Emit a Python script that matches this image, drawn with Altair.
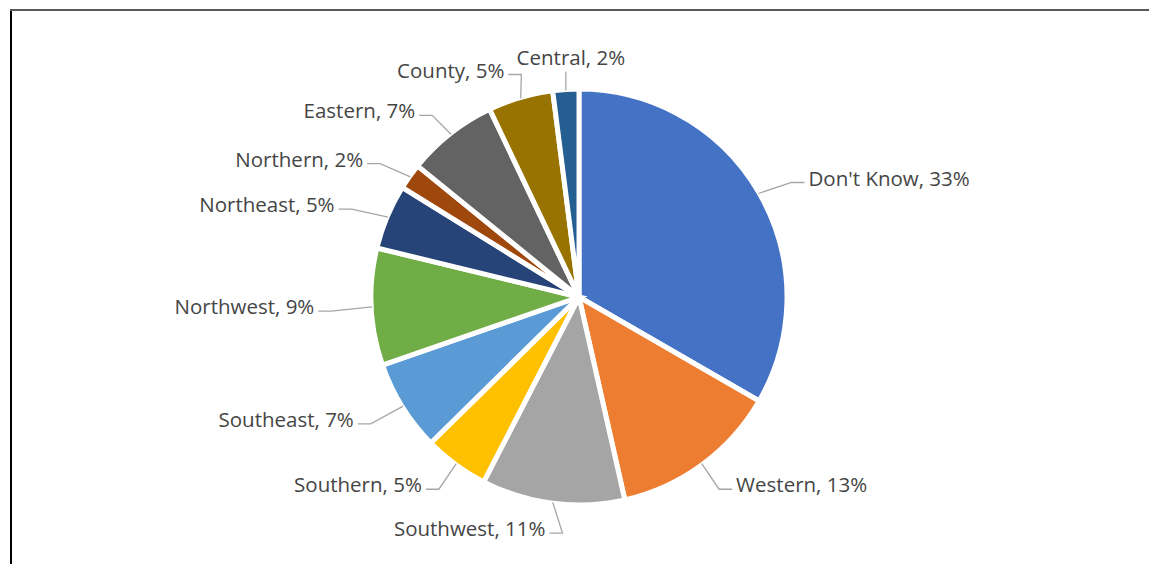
import math
import altair as alt
import pandas as pd

categories = ["Don't Know", "Western", "Southwest", "Southern", "Southeast",
              "Northwest", "Northeast", "Northern", "Eastern", "County", "Central"]
values = [33, 13, 11, 5, 7, 9, 5, 2, 7, 5, 2]
colors = ["#4472C4", "#ED7D31", "#A5A5A5", "#FFC000", "#5B9BD5",
          "#70AD47", "#264478", "#9E480E", "#636363", "#997300", "#255E91"]

W, H = 1149, 564
CX, CY = 579, 297
R = 208
R_START = 207
LAB_A, LAB_B = 265, 235   # label anchor ellipse (horizontal, vertical)
HSEG = 13
GAP = 4
FONT = "Open Sans"
FSIZE = 20.5

total = sum(values)
pie_df = pd.DataFrame({"cat": categories, "val": values, "idx": list(range(len(values)))})

line_rows, text_rows = [], []
cum = 0
for i, (c, v) in enumerate(zip(categories, values)):
    mid = (cum + v / 2) / total * 2 * math.pi
    cum += v
    s, co = math.sin(mid), math.cos(mid)
    sx, sy = CX + R_START * s, CY - R_START * co
    label = f"{c}, {v}%"
    line_rows.append({"cat": c, "k": 0, "x": sx, "y": sy})
    if abs(s) < 0.15 and co > 0:
        ey = CY - (R + 18) * co
        line_rows.append({"cat": c, "k": 1, "x": sx, "y": ey})
        text_rows.append({"label": label, "x": sx + 5, "y": ey - 2, "al": "center"})
    else:
        side = 1 if s > 0 else -1
        ax, ay = CX + LAB_A * s, CY - LAB_B * co
        line_rows.append({"cat": c, "k": 1, "x": ax - side * (HSEG + GAP), "y": ay + 3})
        line_rows.append({"cat": c, "k": 2, "x": ax - side * GAP, "y": ay + 3})
        text_rows.append({"label": label, "x": ax, "y": ay,
                          "al": "left" if side > 0 else "right"})

line_df = pd.DataFrame(line_rows)
text_df = pd.DataFrame(text_rows)

xs = alt.Scale(domain=[0, W], nice=False, zero=False)
ys = alt.Scale(domain=[0, H], nice=False, zero=False, reverse=True)

pie = alt.Chart(pie_df).mark_arc(outerRadius=R, stroke="white", strokeWidth=5).encode(
    theta=alt.Theta("val:Q", stack=True),
    order=alt.Order("idx:Q"),
    color=alt.Color("cat:N", scale=alt.Scale(domain=categories, range=colors), legend=None),
    x=alt.value(CX), y=alt.value(CY),
)

leaders = alt.Chart(line_df).mark_line(color="#A6A6A6", strokeWidth=1.3).encode(
    x=alt.X("x:Q", scale=xs, axis=None),
    y=alt.Y("y:Q", scale=ys, axis=None),
    detail="cat:N",
    order="k:Q",
)

texts = []
for al, bl in [("left", "middle"), ("right", "middle"), ("center", "bottom")]:
    texts.append(
        alt.Chart(text_df).transform_filter(alt.datum.al == al)
        .mark_text(align=al, baseline=bl, font=FONT, fontSize=FSIZE, color="#454545")
        .encode(x=alt.X("x:Q", scale=xs, axis=None),
                y=alt.Y("y:Q", scale=ys, axis=None),
                text="label:N")
    )

one = alt.Data(values=[{}])
left_rule = alt.Chart(one).mark_rule(color="black", strokeWidth=2).encode(
    x=alt.value(11), y=alt.value(9), y2=alt.value(H))
top_rule = alt.Chart(one).mark_rule(color="#595959", strokeWidth=2).encode(
    x=alt.value(10), x2=alt.value(W), y=alt.value(10))

chart = alt.layer(pie, leaders, *texts, left_rule, top_rule).properties(
    width=W, height=H, padding=0, autosize=alt.AutoSizeParams(type="none"),
    background="white",
).configure_view(stroke=None)

chart.save("out.html", embed_options={"renderer": "svg", "actions": False})
